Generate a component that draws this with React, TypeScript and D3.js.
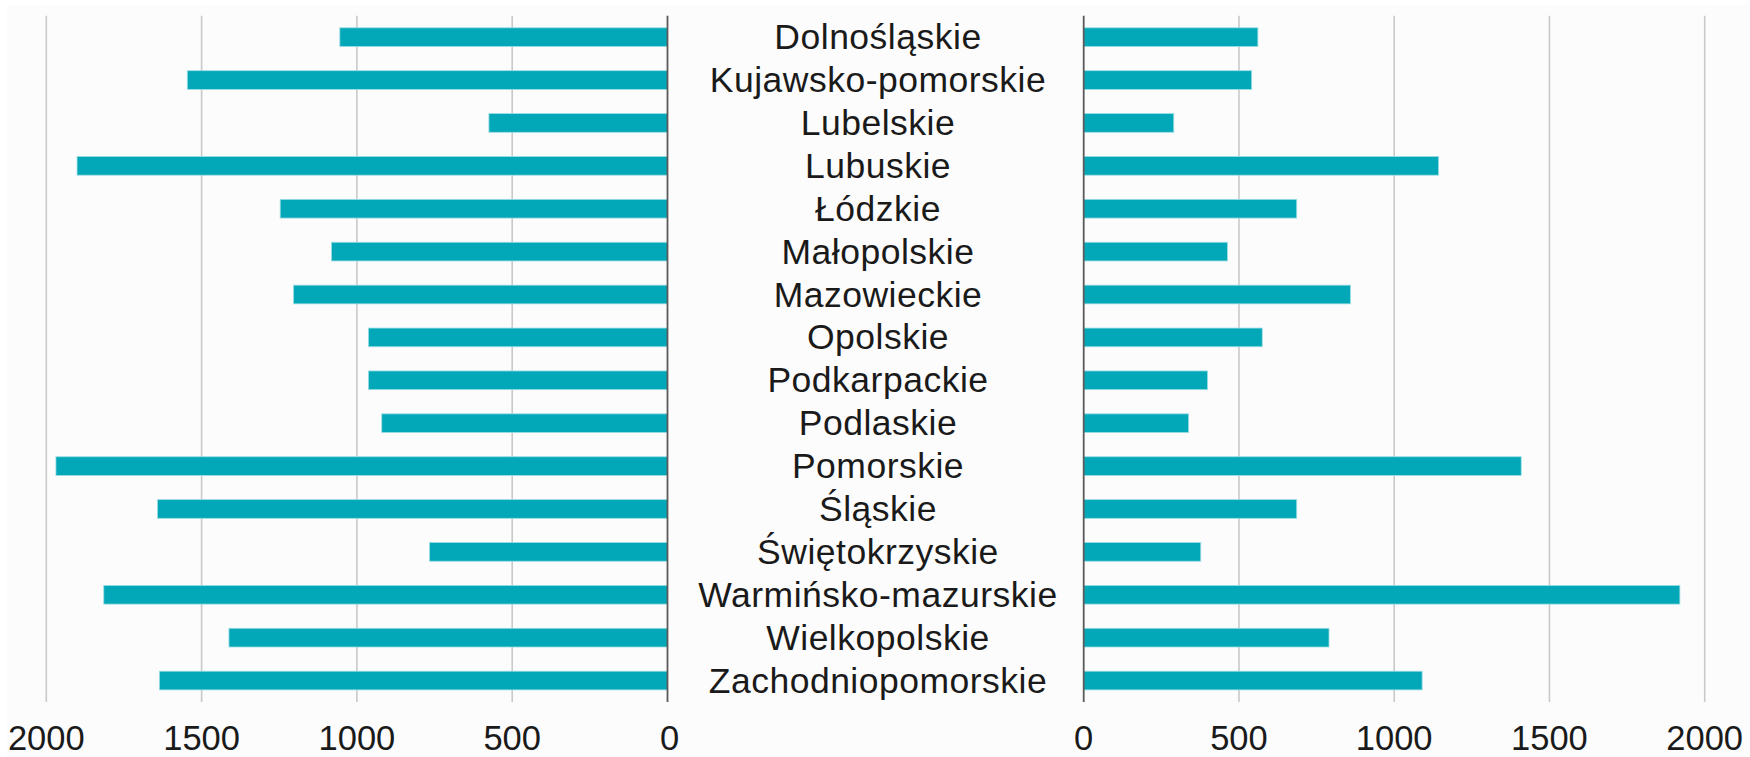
import React from "react";
import * as d3 from "d3";

const categories = [
  "Dolnośląskie",
  "Kujawsko-pomorskie",
  "Lubelskie",
  "Lubuskie",
  "Łódzkie",
  "Małopolskie",
  "Mazowieckie",
  "Opolskie",
  "Podkarpackie",
  "Podlaskie",
  "Pomorskie",
  "Śląskie",
  "Świętokrzyskie",
  "Warmińsko-mazurskie",
  "Wielkopolskie",
  "Zachodniopomorskie",
];

const leftValues = [1055, 1546, 575, 1901, 1247, 1082, 1204, 963, 963, 920, 1969, 1642, 766, 1815, 1412, 1636];
const rightValues = [561, 541, 290, 1143, 686, 463, 859, 575, 399, 338, 1409, 686, 377, 1920, 790, 1090];

const tickValues = [0, 500, 1000, 1500, 2000];

const W = 1750;
const H = 757;
const BAR = "#02a8b8";
const FONT = "Liberation Sans, Arial, Helvetica, sans-serif";

export default function App() {
  const xL = d3.scaleLinear().domain([0, 2000]).range([667.5, 46.3]);
  const xR = d3.scaleLinear().domain([0, 2000]).range([1083.7, 1704.7]);
  const y = d3
    .scaleBand<string>()
    .domain(categories)
    .range([15.7, 702])
    .paddingInner(0.564)
    .paddingOuter(0.282);
  const labelX = 878;
  const top = 15.7;
  const bottom = 702;

  return (
    <div style={{ position: "absolute", left: 0, top: 0 }}>
      <svg width={W} height={H} viewBox={`0 0 ${W} ${H}`} style={{ display: "block" }}>
        <rect x={0} y={0} width={W} height={H} fill="#ffffff" />
        <rect x={7} y={5} width={W - 7} height={H - 5} fill="#fcfcfc" />
        {tickValues
          .filter((t) => t !== 0)
          .map((t) => (
            <g key={"g" + t}>
              <line x1={xL(t)} x2={xL(t)} y1={top} y2={bottom} stroke="#c9c9c9" strokeWidth={1.6} />
              <line x1={xR(t)} x2={xR(t)} y1={top} y2={bottom} stroke="#c9c9c9" strokeWidth={1.6} />
            </g>
          ))}
        {categories.map((c, i) => (
          <g key={c}>
            <rect
              x={xL(leftValues[i])}
              y={y(c)!}
              width={xL(0) - xL(leftValues[i])}
              height={y.bandwidth()}
              fill={BAR}
              stroke="#9edde4"
              strokeWidth={0.8}
            />
            <rect
              x={xR(0)}
              y={y(c)!}
              width={xR(rightValues[i]) - xR(0)}
              height={y.bandwidth()}
              fill={BAR}
              stroke="#9edde4"
              strokeWidth={0.8}
            />
            <text
              x={labelX}
              y={y(c)! + y.bandwidth() / 2 + 12}
              textAnchor="middle"
              fontFamily={FONT}
              fontSize={35.5}
              letterSpacing={0.5}
              fill="#1a1a1a"
            >
              {c}
            </text>
          </g>
        ))}
        <line x1={xL(0)} x2={xL(0)} y1={top} y2={bottom} stroke="#5a5a5a" strokeWidth={1.8} />
        <line x1={xR(0)} x2={xR(0)} y1={top} y2={bottom} stroke="#5a5a5a" strokeWidth={1.8} />
        {tickValues.map((t) => (
          <g key={"t" + t}>
            <text x={xL(t) + (t === 0 ? 2 : 0)} y={750} textAnchor="middle" fontFamily={FONT} fontSize={34.5} fill="#1a1a1a">
              {t}
            </text>
            <text x={xR(t)} y={750} textAnchor="middle" fontFamily={FONT} fontSize={34.5} fill="#1a1a1a">
              {t}
            </text>
          </g>
        ))}
      </svg>
    </div>
  );
}
